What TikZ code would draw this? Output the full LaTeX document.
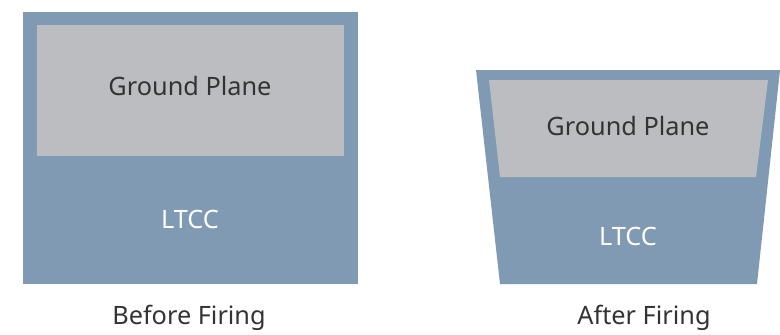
\documentclass[tikz,border=0pt]{standalone}
\usepackage{fontspec}
\setmainfont{Noto Sans}
\definecolor{ltcc}{HTML}{7F9AB2}
\definecolor{gp}{HTML}{BCBDC1}
\definecolor{txt}{HTML}{333333}
\begin{document}
\begin{tikzpicture}[x=1pt,y=-1pt,
  lbl/.style={font=\fontsize{25.3}{29}\selectfont, text=txt, inner sep=0pt},
  wlbl/.style={font=\fontsize{25.3}{29}\selectfont, text=white, inner sep=0pt}]
\useasboundingbox (0,0) rectangle (780,335);
% Before firing
\fill[ltcc] (23,12) rectangle (358,284);
\fill[gp] (37,25) rectangle (344,156);
\node[lbl] (gp1) at (190,86) {Ground Plane};
\node[wlbl] (lt1) at (190,219) {LTCC};
\node[lbl] (bf) at (189,318) {Before Firing};
% After firing
\fill[ltcc] (476,70) -- (780,70) -- (757,284) -- (500,284) -- cycle;
\fill[gp] (489,80) -- (768,80) -- (756,177) -- (500,177) -- cycle;
\node[lbl] (gp2) at (628,126) {Ground Plane};
\node[wlbl] (lt2) at (628,236) {LTCC};
\node[lbl] (af) at (644,318) {After Firing};
\end{tikzpicture}
\end{document}
